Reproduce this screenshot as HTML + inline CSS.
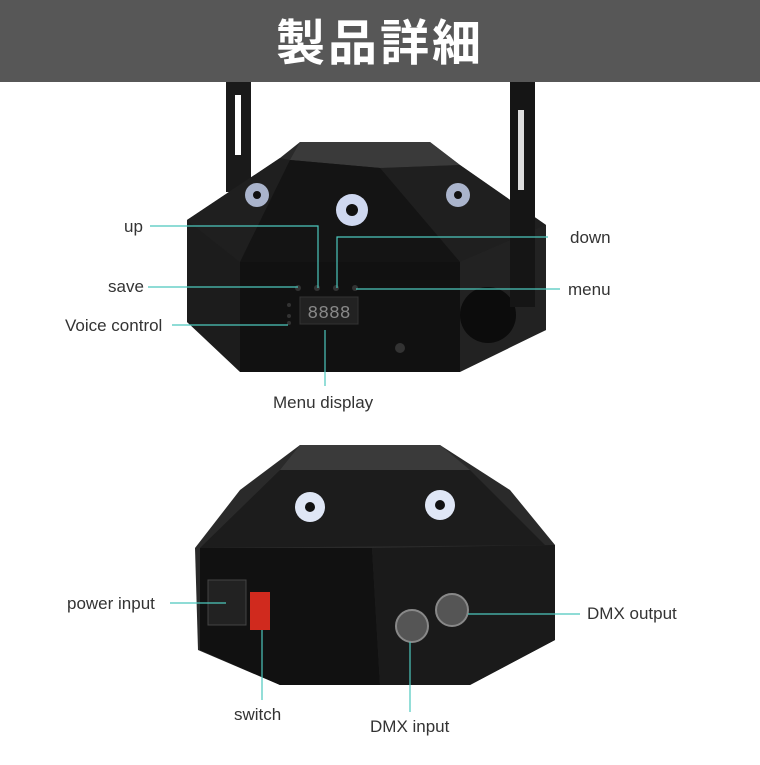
<!DOCTYPE html>
<html><head><meta charset="utf-8"><style>
body{margin:0;width:760px;height:760px;background:#fff;overflow:hidden;font-family:"Liberation Sans","Noto Sans CJK JP",sans-serif}
</style></head><body>
<svg width="760" height="760" viewBox="0 0 760 760" xmlns="http://www.w3.org/2000/svg">
<rect x="0" y="0" width="760" height="82" fill="#575757"/>
<text x="380" y="60" text-anchor="middle" font-size="49" font-weight="bold" fill="#fff" font-family="Noto Sans CJK JP, sans-serif" letter-spacing="3">製品詳細</text>

<!-- top device -->
<rect x="226" y="82" width="25" height="110" fill="#1a1a1a"/>
<rect x="235" y="95" width="6" height="60" fill="#fff"/>
<polygon points="187,220 280,158 300,142 430,142 460,165 546,225 546,330 455,372 245,372 187,322" fill="#2a2a2a"/>
<polygon points="300,142 430,142 460,165 380,168 290,160" fill="#3a3a3a"/>
<polygon points="290,160 380,168 460,165 546,225 460,262 240,262 187,220 280,158" fill="#1f1f1f"/>
<polygon points="290,160 380,168 460,262 240,262" fill="#141414"/>
<rect x="240" y="262" width="220" height="110" fill="#111"/>
<polygon points="460,262 546,225 546,330 460,372" fill="#222"/>
<polygon points="187,220 240,262 240,372 187,322" fill="#1c1c1c"/>
<circle cx="488" cy="315" r="28" fill="#0c0c0c"/>
<rect x="510" y="82" width="25" height="225" fill="#151515"/>
<rect x="518" y="110" width="6" height="80" fill="#ddd"/>
<circle cx="352" cy="210" r="16" fill="#cfd8f0"/><circle cx="352" cy="210" r="6" fill="#111"/>
<circle cx="257" cy="195" r="12" fill="#aab4cc"/><circle cx="257" cy="195" r="4" fill="#111"/>
<circle cx="458" cy="195" r="12" fill="#aab4cc"/><circle cx="458" cy="195" r="4" fill="#111"/>
<rect x="300" y="297" width="58" height="27" fill="#222" stroke="#333"/>
<text x="329" y="318" text-anchor="middle" font-size="18" fill="#888" font-family="Liberation Mono">8888</text>
<g fill="#333"><circle cx="298" cy="288" r="3"/><circle cx="317" cy="288" r="3"/><circle cx="336" cy="288" r="3"/><circle cx="355" cy="288" r="3"/><circle cx="289" cy="305" r="2"/><circle cx="289" cy="316" r="2"/><circle cx="289" cy="323" r="2"/><circle cx="400" cy="348" r="5"/></g>

<!-- bottom device -->
<polygon points="195,548 240,490 300,445 440,445 510,490 555,545 555,640 470,685 280,685 198,650" fill="#2a2a2a"/>
<polygon points="300,445 440,445 470,470 280,470" fill="#3a3a3a"/>
<polygon points="280,470 470,470 545,545 200,548" fill="#1c1c1c"/>
<polygon points="200,548 372,548 380,685 280,685 200,650" fill="#111"/>
<polygon points="372,548 555,545 555,640 470,685 380,685" fill="#1a1a1a"/>
<circle cx="310" cy="507" r="15" fill="#dfe6f5"/><circle cx="310" cy="507" r="5" fill="#111"/>
<circle cx="440" cy="505" r="15" fill="#dfe6f5"/><circle cx="440" cy="505" r="5" fill="#111"/>
<rect x="208" y="580" width="38" height="45" fill="#222" stroke="#444"/>
<rect x="250" y="592" width="20" height="38" fill="#d02a1e"/>
<circle cx="412" cy="626" r="16" fill="#555" stroke="#888" stroke-width="2"/>
<circle cx="452" cy="610" r="16" fill="#555" stroke="#888" stroke-width="2"/>

<!-- connector lines -->
<g stroke="#4cc8bd" stroke-width="1.2" fill="none">
<polyline points="150,226 318,226 318,288"/>
<polyline points="548,237 337,237 337,288"/>
<line x1="148" y1="287" x2="298" y2="287"/>
<line x1="356" y1="289" x2="560" y2="289"/>
<line x1="172" y1="325" x2="288" y2="325"/>
<line x1="325" y1="330" x2="325" y2="386"/>
<line x1="170" y1="603" x2="226" y2="603"/>
<line x1="262" y1="630" x2="262" y2="700"/>
<line x1="410" y1="642" x2="410" y2="712"/>
<line x1="468" y1="614" x2="580" y2="614"/>
</g>
<g font-size="17" fill="#333">
<text x="124" y="232">up</text>
<text x="570" y="243">down</text>
<text x="108" y="292">save</text>
<text x="568" y="295">menu</text>
<text x="65" y="331">Voice control</text>
<text x="273" y="408">Menu display</text>
<text x="67" y="609">power input</text>
<text x="587" y="619">DMX output</text>
<text x="234" y="720">switch</text>
<text x="370" y="732">DMX input</text>
</g>
</svg>
</body></html>
